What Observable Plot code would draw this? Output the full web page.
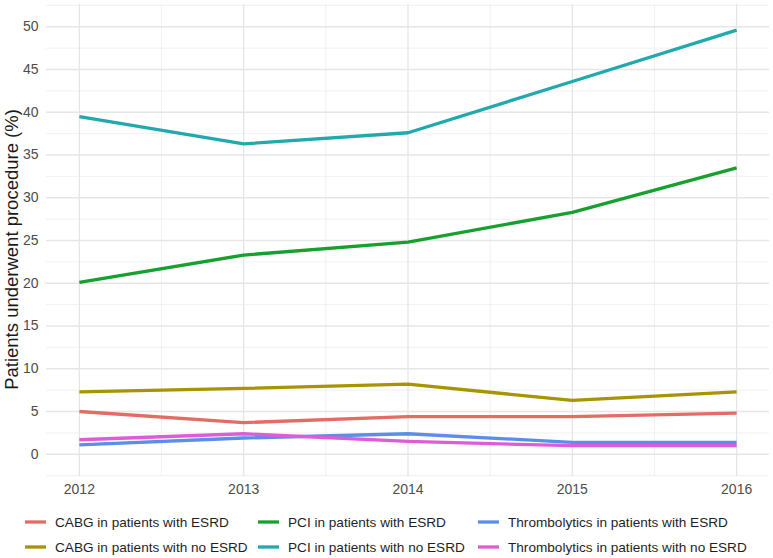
<!DOCTYPE html>
<html>
<head>
<meta charset="utf-8">
<script src="https://cdn.jsdelivr.net/npm/d3@7"></script>
<script src="https://cdn.jsdelivr.net/npm/@observablehq/plot@0.6"></script>
<style>
  body { margin: 0; background: #fff; font-family: "Liberation Sans", Arial, sans-serif; }
  #wrap { width: 773px; position: relative; }
  #legend { position: relative; height: 58px; width: 773px; }
  .item { position: absolute; display: flex; align-items: center; height: 25px; font-size: 13.6px; color: #1f1f1f; white-space: nowrap; }
  .item svg { margin-right: 9px; }
</style>
</head>
<body>
<div id="wrap"></div>
<script>
const years = [2012, 2013, 2014, 2015, 2016];
const seriesNames = [
  "CABG in patients with ESRD",
  "CABG in patients with no ESRD",
  "PCI in patients with ESRD",
  "PCI in patients with no ESRD",
  "Thrombolytics in patients with ESRD",
  "Thrombolytics in patients with no ESRD"
];
const cabgEsrd = [5.0, 3.7, 4.4, 4.4, 4.8];
const cabgNoEsrd = [7.3, 7.7, 8.2, 6.3, 7.3];
const pciEsrd = [20.1, 23.3, 24.8, 28.3, 33.5];
const pciNoEsrd = [39.5, 36.3, 37.6, 43.6, 49.6];
const thrombEsrd = [1.1, 1.9, 2.4, 1.4, 1.4];
const thrombNoEsrd = [1.7, 2.4, 1.5, 1.0, 1.0];
const colors = ["#E36C64", "#A89400", "#17A02E", "#22A9AE", "#5B8EEB", "#DE5CD8"];
const yTicks = [0, 5, 10, 15, 20, 25, 30, 35, 40, 45, 50];
const yMinor = [-2.5, 2.5, 7.5, 12.5, 17.5, 22.5, 27.5, 32.5, 37.5, 42.5, 47.5, 52.5];
const xMinor = [2012.5, 2013.5, 2014.5, 2015.5];
const yTitle = "Patients underwent procedure (%)";

const allValues = [cabgEsrd, cabgNoEsrd, pciEsrd, pciNoEsrd, thrombEsrd, thrombNoEsrd];
const data = [];
seriesNames.forEach((name, s) => {
  years.forEach((yr, i) => data.push({series: name, year: yr, value: allValues[s][i]}));
});

const chart = Plot.plot({
  width: 773,
  height: 500,
  marginLeft: 46,
  marginRight: 4,
  marginTop: 4,
  marginBottom: 24,
  style: {fontFamily: "'Liberation Sans', Arial, sans-serif", background: "#fff"},
  x: {domain: [2011.8, 2016.2]},
  y: {domain: [-2.6, 52.6]},
  color: {domain: seriesNames, range: colors},
  marks: [
    Plot.gridY(yMinor, {stroke: "#EDEDED", strokeOpacity: 1, strokeWidth: 0.8}),
    Plot.gridX(xMinor, {stroke: "#EDEDED", strokeOpacity: 1, strokeWidth: 0.8}),
    Plot.gridY(yTicks, {stroke: "#E6E6E6", strokeOpacity: 1, strokeWidth: 1.3}),
    Plot.gridX(years, {stroke: "#E6E6E6", strokeOpacity: 1, strokeWidth: 1.3}),
    Plot.axisY(yTicks, {tickSize: 0, tickPadding: 8, fontSize: 14, fill: "#4D4D4D", label: null}),
    Plot.axisX(years, {tickSize: 0, tickPadding: 8, fontSize: 14, fill: "#4D4D4D", label: null, tickFormat: d => String(d)}),
    Plot.text([yTitle], {frameAnchor: "left", textAnchor: "middle", lineAnchor: "middle", rotate: -90, dx: -34, dy: 9, fontSize: 18.5, fill: "#1A1A1A", text: d => d}),
    Plot.line(data, {x: "year", y: "value", z: "series", stroke: "series", strokeWidth: 3.3, strokeLinejoin: "round", strokeLinecap: "butt"})
  ]
});
const wrap = document.getElementById("wrap");
wrap.appendChild(chart);

const legend = document.createElement("div");
legend.id = "legend";
const colX = [25, 258, 478];
seriesNames.forEach((name, s) => {
  const col = Math.floor(s / 2), row = s % 2;
  const item = document.createElement("div");
  item.className = "item";
  item.style.left = colX[col] + "px";
  item.style.top = (9.5 + row * 25) + "px";
  item.innerHTML = `<svg width="21" height="6"><line x1="0" x2="21" y1="3" y2="3" stroke="${colors[s]}" stroke-width="3.3"/></svg>`;
  const span = document.createElement("span");
  span.textContent = name;
  item.appendChild(span);
  legend.appendChild(item);
});
wrap.appendChild(legend);
</script>
</body>
</html>
